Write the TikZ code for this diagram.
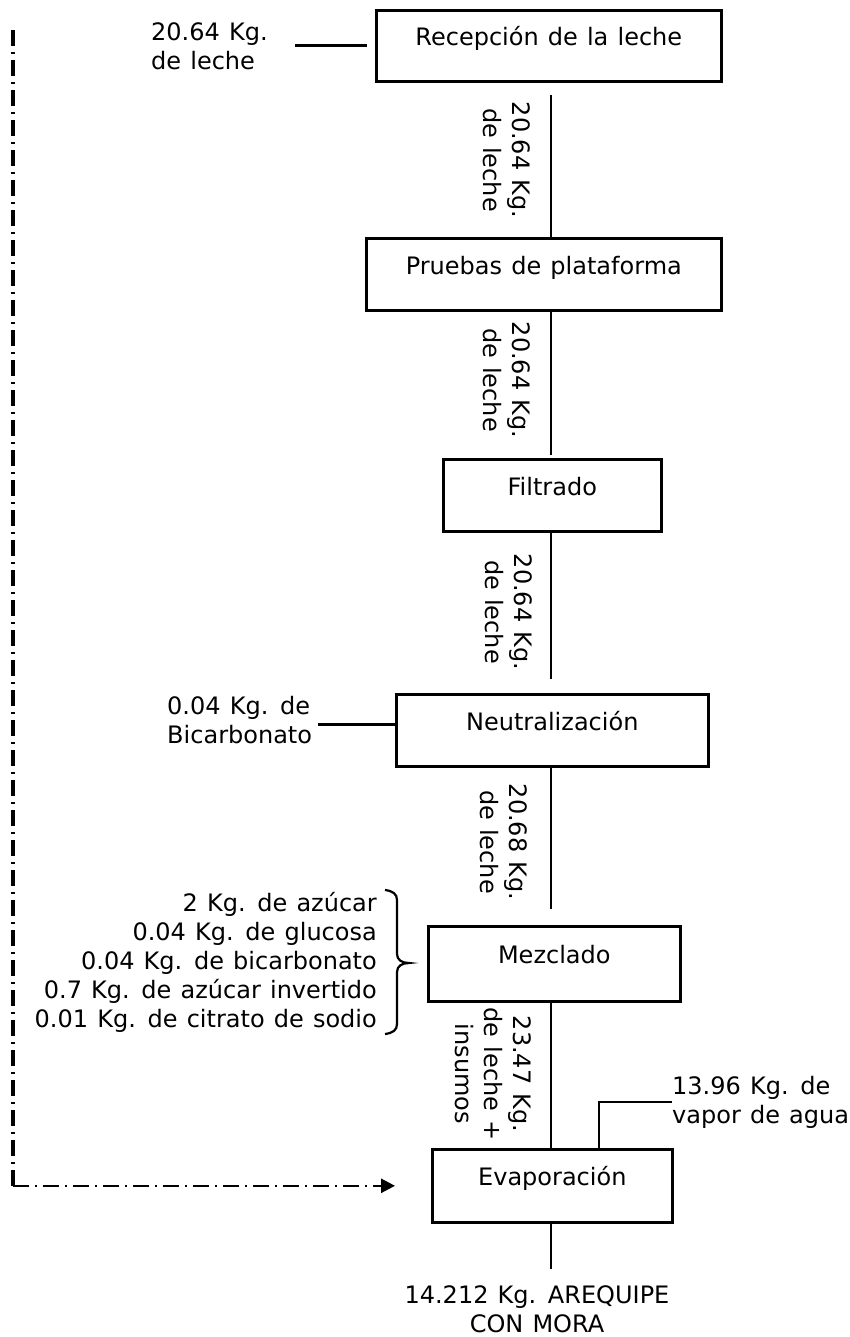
\documentclass[tikz,border=0pt]{standalone}
\usepackage{fontspec}
\setmainfont[WordSpace=1.2]{DejaVu Sans}
\usetikzlibrary{arrows.meta}
\begin{document}
\begin{tikzpicture}[x=1pt,y=-1pt,
  every node/.style={font=\fontsize{24}{29}\selectfont, inner sep=0pt},
  proc/.style={draw, line width=2.6pt, anchor=north west, text height=12pt, text depth=12pt},
  flow/.style={line width=2.6pt},
  qty/.style={rotate=-90, align=center},
  fbline/.style={dash pattern=on 16pt off 6pt on 2pt off 6pt},
  fbarrow/.style={-{Triangle[length=14pt,width=14pt]}}
]
\useasboundingbox (0,0) rectangle (849,1337);

% process steps
\node[proc, minimum width=345pt, minimum height=71pt] (rec) at (375,9)    {Recepción de la leche};
\node[proc, minimum width=355pt, minimum height=72pt] (pru) at (365,237)  {Pruebas de plataforma};
\node[proc, minimum width=218pt, minimum height=72pt] (fil) at (442,458)  {Filtrado};
\node[proc, minimum width=312pt, minimum height=72pt] (neu) at (395,693)  {Neutralización};
\node[proc, minimum width=252pt, minimum height=75pt] (mez) at (427,925)  {Mezclado};
\node[proc, minimum width=240pt, minimum height=73pt] (eva) at (431,1148) {Evaporación};

% main axis of the flow
\coordinate (axis) at (551,0);
\coordinate (out) at (551,1269);
\coordinate (vapx) at (599,0);
\coordinate (fbtop) at (13,30);

\draw[flow] (rec.south -| axis) ++(0,12) -- (pru.north -| axis);
\draw[flow] (pru.south -| axis) -- ([yshift=3pt]fil.north -| axis);
\draw[flow] (fil.south -| axis) -- ([yshift=14pt]neu.north -| axis);
\draw[flow] (neu.south -| axis) -- ([yshift=16pt]mez.north -| axis);
\draw[flow] (mez.south -| axis) -- (eva.north -| axis);
\draw[flow] (eva.south -| axis) -- (out);

% quantities carried between steps
\node[qty] (q1) at (507,160)  {20.64 Kg.\\de leche};
\node[qty] (q2) at (507,380)  {20.64 Kg.\\de leche};
\node[qty] (q3) at (509,612)  {20.64 Kg.\\de leche};
\node[qty] (q4) at (504,842)  {20.68 Kg.\\de leche};
\node[qty] (q5) at (493,1074) {23.47 Kg.\\de leche +\\insumos};

% inputs
\node[align=left, anchor=west] (lin) at (151,46) {20.64 Kg.\\de leche};
\draw[flow] ([xshift=-8pt]rec.west) -- ([xshift=-80pt]rec.west);

\node[align=left, anchor=west] (bic) at (167,720) {0.04 Kg. de\\Bicarbonato};
\draw[flow] ([yshift=6pt]neu.west) -- ([xshift=-77pt,yshift=6pt]neu.west);

\node[align=right, anchor=east] (ins) at (377,962)
  {2 Kg. de azúcar\\0.04 Kg. de glucosa\\0.04 Kg. de bicarbonato\\0.7 Kg. de azúcar invertido\\0.01 Kg. de citrato de sodio};
\draw[line width=2.2pt] (385,890) .. controls (393,891) and (397,894) .. (397,900)
  -- (397,954) .. controls (397,960) and (402,963) .. (409,963)
  .. controls (402,963) and (397,966) .. (397,972)
  -- (397,1024) .. controls (397,1030) and (393,1033) .. (385,1034);

% outputs
\node[align=left, anchor=west] (vap) at (672,1102) {13.96 Kg. de\\vapor de agua};
\draw[flow] (eva.north -| vapx) |- (vap.west);

\node[align=center] (prod) at (537,1309) {14.212 Kg. AREQUIPE\\CON MORA};

% return line: heavy vertical run, lighter run into the evaporator
\draw[fbline, line width=4pt] (fbtop) -- (fbtop |- eva.west);
\draw[fbline, fbarrow, line width=2.6pt] (fbtop |- eva.west) -- ([xshift=-36pt]eva.west);
\end{tikzpicture}
\end{document}
